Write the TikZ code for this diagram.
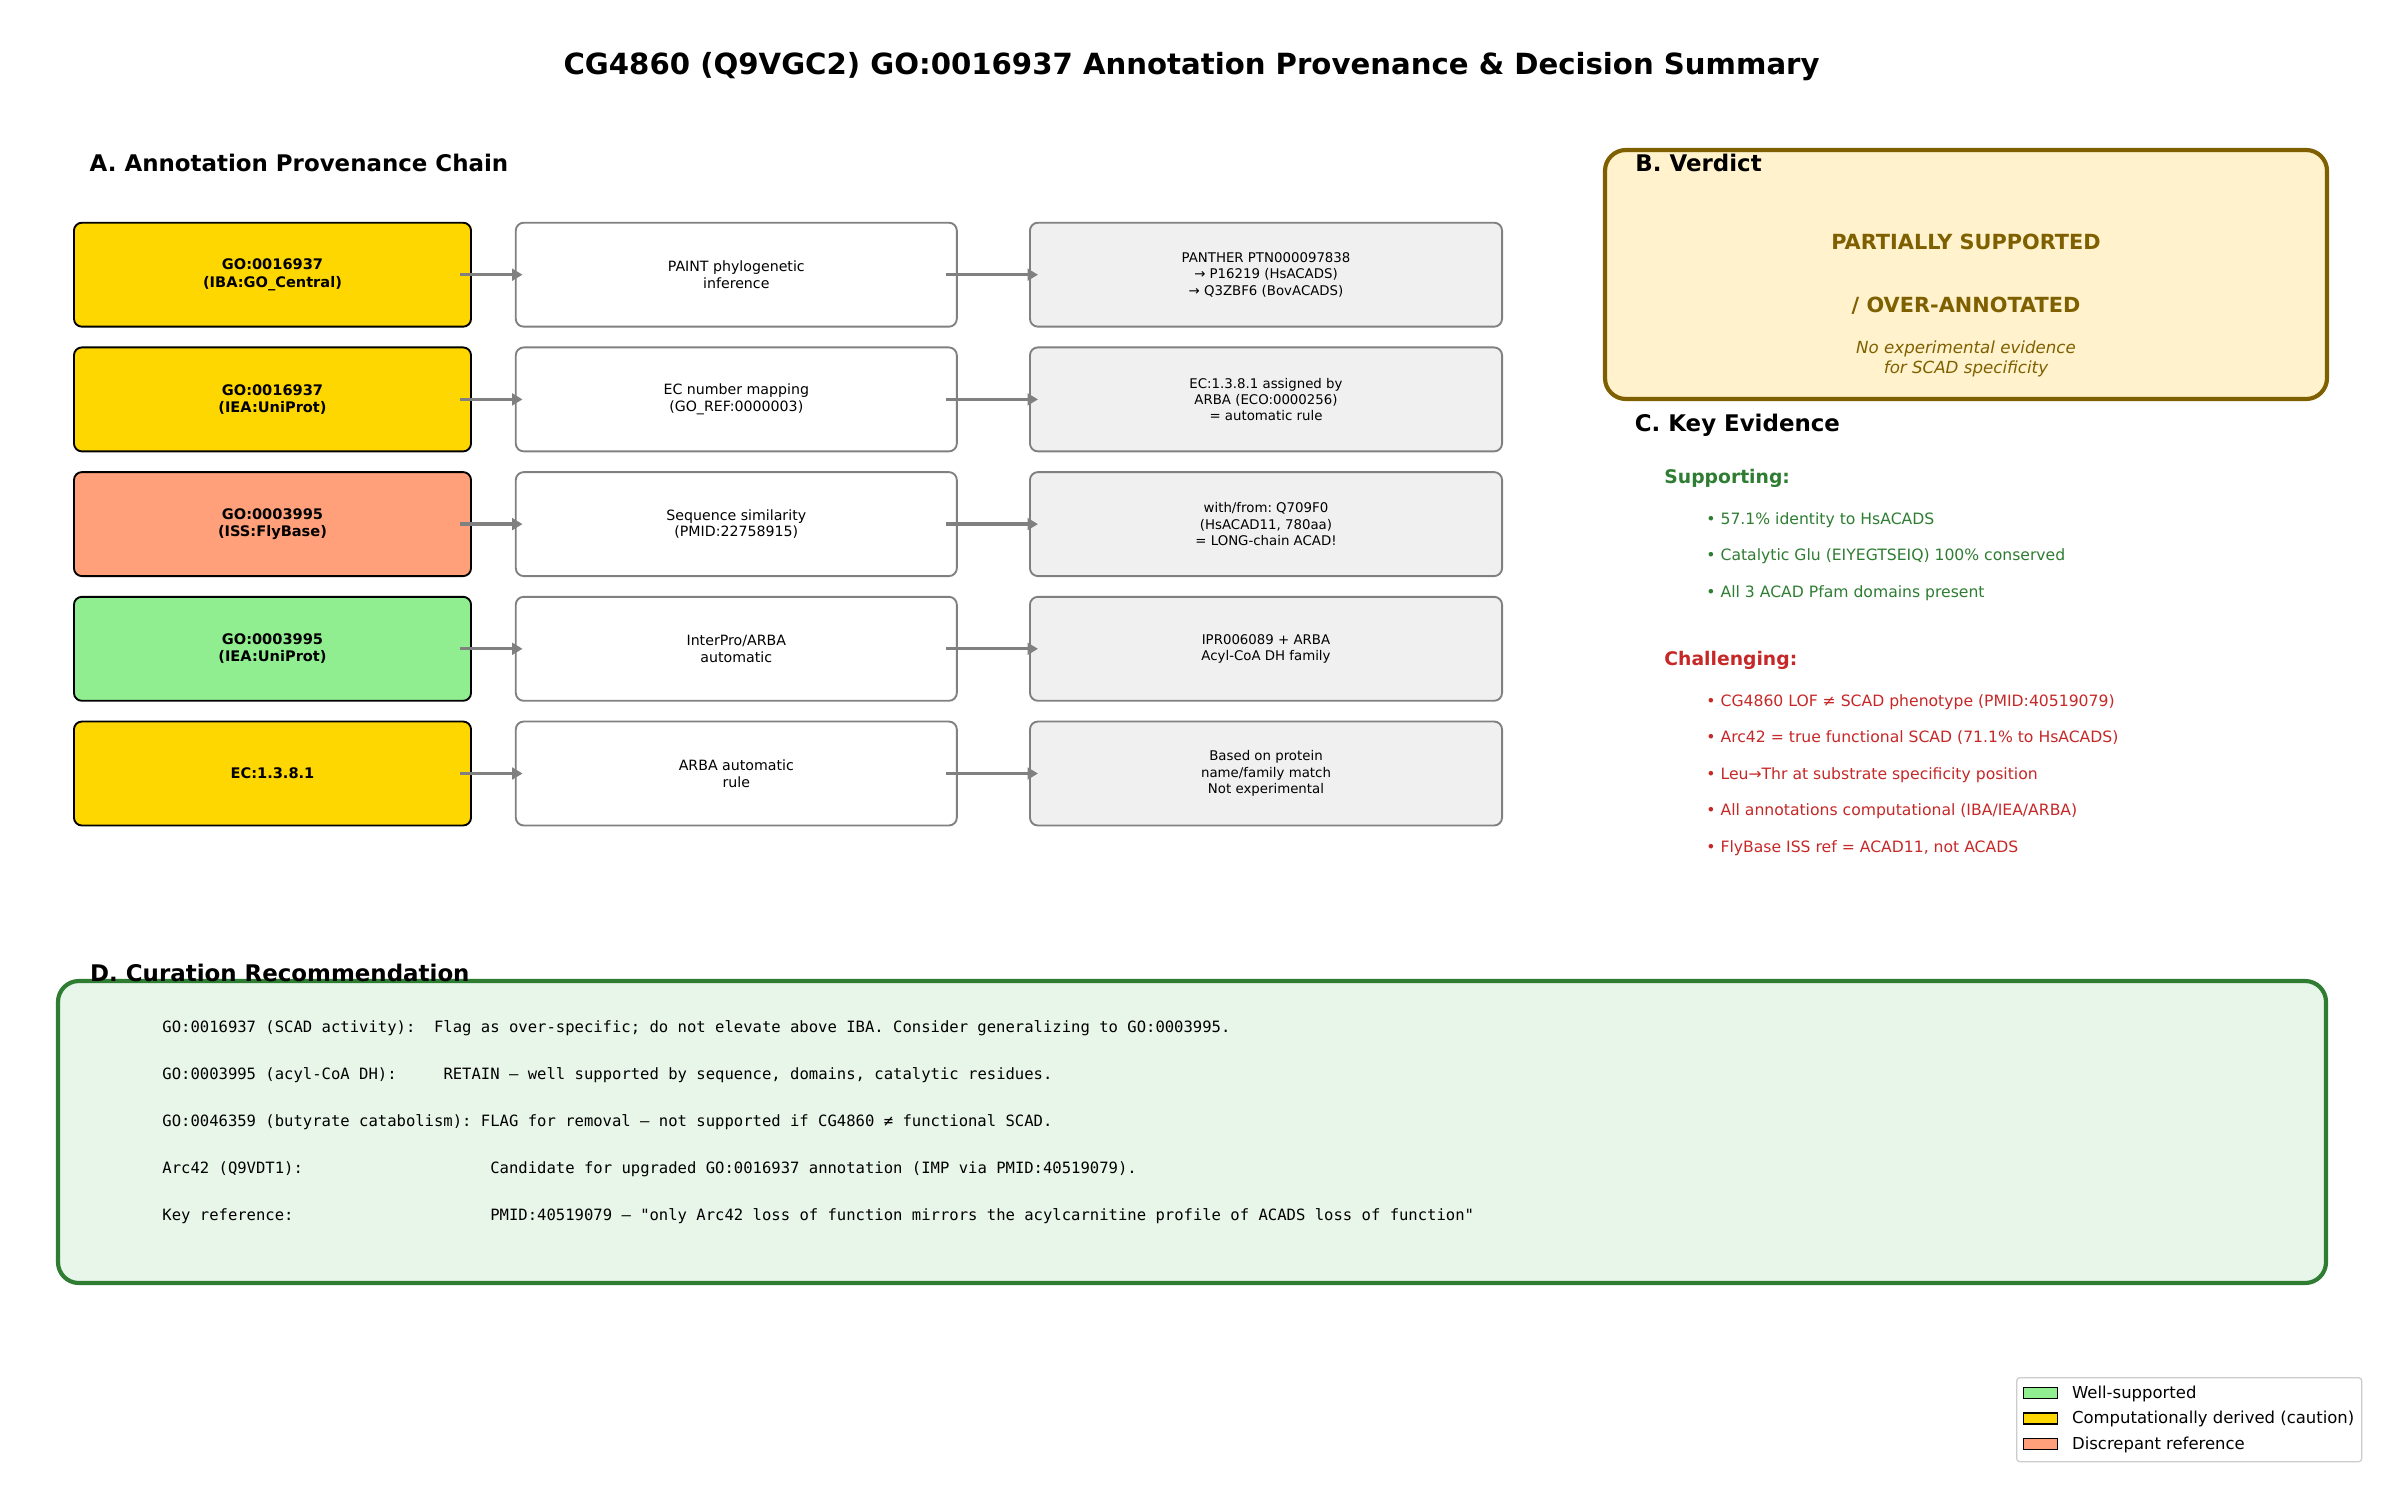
\documentclass[tikz,border=0pt]{standalone}
\usepackage{fontspec}
\setmainfont{DejaVu Sans}
\setmonofont{DejaVu Sans Mono}
\usetikzlibrary{arrows.meta}
\definecolor{gold}{HTML}{FFD700}
\definecolor{salmon}{HTML}{FFA07A}
\definecolor{lgreen}{HTML}{90EE90}
\definecolor{midgray}{HTML}{808080}
\definecolor{lightfill}{HTML}{F0F0F0}
\definecolor{verdfill}{HTML}{FFF2CC}
\definecolor{verdedge}{HTML}{7F6000}
\definecolor{evgreen}{HTML}{2E7D32}
\definecolor{evred}{HTML}{C62828}
\definecolor{recfill}{HTML}{E8F5E9}
\definecolor{legedge}{HTML}{CCCCCC}
\frenchspacing
\tikzset{
  lbox/.style={draw=black, line width=0.9pt, rounded corners=3.8pt, minimum width=190.6pt, minimum height=49.9pt, inner sep=0pt, align=center, font=\bfseries\fontsize{7}{8.3}\selectfont},
  mbox/.style={draw=midgray, line width=0.9pt, fill=white, rounded corners=3.8pt, minimum width=211.7pt, minimum height=49.9pt, inner sep=0pt, align=center, font=\fontsize{6.8}{8}\selectfont},
  rbox/.style={draw=midgray, line width=0.9pt, fill=lightfill, rounded corners=3.8pt, minimum width=226.6pt, minimum height=49.9pt, inner sep=0pt, align=center, font=\fontsize{6.4}{7.8}\selectfont},
  arr/.style={draw=midgray, line width=1.6pt, -{Triangle[length=5pt,width=5.6pt]}},
  head/.style={anchor=base west, inner sep=0pt, font=\bfseries\fontsize{11}{13}\selectfont},
  sub/.style={anchor=base west, inner sep=0pt, font=\bfseries\fontsize{9}{11}\selectfont},
  bul/.style={anchor=base west, inner sep=0pt, font=\fontsize{7.5}{9}\selectfont},
  mono/.style={anchor=base west, inner sep=0pt, font=\ttfamily\fontsize{7.47}{9}\selectfont},
  patch/.style={draw=black, line width=0.7pt, minimum width=16.3pt, minimum height=5.3pt, inner sep=0pt},
  legtext/.style={anchor=base west, inner sep=0pt, font=\fontsize{7.9}{9}\selectfont},
}
\begin{document}
\begin{tikzpicture}[x=0.48pt, y=-0.48pt]
\useasboundingbox[fill=white] (0,0) rectangle (2385,1485);

% title
\node[anchor=base, inner sep=0pt, font=\bfseries\fontsize{14}{16}\selectfont] (title) at (1191.5,75) {CG4860 (Q9VGC2) GO:0016937 Annotation Provenance \& Decision Summary};

% section A
\node[head] (hA) at (89.3,171.7) {A. Annotation Provenance Chain};

\node[lbox, fill=gold]   (L1) at (272.5,274.7) {GO:0016937\\(IBA:GO\_Central)};
\node[lbox, fill=gold]   (L2) at (272.5,399.4) {GO:0016937\\(IEA:UniProt)};
\node[lbox, fill=salmon] (L3) at (272.5,524.1) {GO:0003995\\(ISS:FlyBase)};
\node[lbox, fill=lgreen] (L4) at (272.5,648.8) {GO:0003995\\(IEA:UniProt)};
\node[lbox, fill=gold]   (L5) at (272.5,773.5) {EC:1.3.8.1};

\node[mbox] (M1) at (736.3,274.7) {PAINT phylogenetic\\inference};
\node[mbox] (M2) at (736.3,399.4) {EC number mapping\\(GO\_REF:0000003)};
\node[mbox] (M3) at (736.3,524.1) {Sequence similarity\\(PMID:22758915)};
\node[mbox] (M4) at (736.3,648.8) {InterPro/ARBA\\automatic};
\node[mbox] (M5) at (736.3,773.5) {ARBA automatic\\rule};

\node[rbox] (R1) at (1266,274.7) {PANTHER PTN000097838\\→ P16219 (HsACADS)\\→ Q3ZBF6 (BovACADS)};
\node[rbox] (R2) at (1266,399.4) {EC:1.3.8.1 assigned by\\ARBA (ECO:0000256)\\= automatic rule};
\node[rbox] (R3) at (1266,524.1) {with/from: Q709F0\\(HsACAD11, 780aa)\\= LONG-chain ACAD!};
\node[rbox] (R4) at (1266,648.8) {IPR006089 + ARBA\\Acyl-CoA DH family};
\node[rbox] (R5) at (1266,773.5) {Based on protein\\name/family match\\Not experimental};

\foreach \i in {1,...,5}{
  \draw[arr] ([xshift=-5.8pt]L\i.east) -- ([xshift=3.7pt]M\i.west);
  \draw[arr] ([xshift=-5.6pt]M\i.east) -- ([xshift=4.3pt]R\i.west);
}

% section B
\draw[draw=verdedge, fill=verdfill, line width=2pt, rounded corners=10pt] (1605,150) rectangle (2327,399);
\node[head] (hB) at (1635,171.5) {B. Verdict};
\node[anchor=base, inner sep=0pt, text=verdedge, font=\bfseries\fontsize{10}{12}\selectfont] (v1) at (1966,249) {PARTIALLY SUPPORTED};
\node[anchor=base, inner sep=0pt, text=verdedge, font=\bfseries\fontsize{10}{12}\selectfont] (v2) at (1966,312.7) {/ OVER-ANNOTATED};
\node[anchor=base, inner sep=0pt, text=verdedge, font=\itshape\fontsize{8}{9}\selectfont] (v3) at (1966,353) {No experimental evidence};
\node[anchor=base, inner sep=0pt, text=verdedge, font=\itshape\fontsize{8}{9}\selectfont] (v4) at (1966,373) {for SCAD specificity};

% section C
\node[head] (hC) at (1634.4,431.7) {C. Key Evidence};
\node[sub, text=evgreen] (sup) at (1664,483) {Supporting:};
\node[bul, text=evgreen] (s1) at (1706,524) {• 57.1\% identity to HsACADS};
\node[bul, text=evgreen] (s2) at (1706,560.7) {• Catalytic Glu (EIYEGTSEIQ) 100\% conserved};
\node[bul, text=evgreen] (s3) at (1706,597.3) {• All 3 ACAD Pfam domains present};
\node[sub, text=evred] (cha) at (1664,665.7) {Challenging:};
\node[bul, text=evred] (c1) at (1706,706) {• CG4860 LOF ≠ SCAD phenotype (PMID:40519079)};
\node[bul, text=evred] (c2) at (1706,742.5) {• Arc42 = true functional SCAD (71.1\% to HsACADS)};
\node[bul, text=evred] (c3) at (1706,779) {• Leu→Thr at substrate specificity position};
\node[bul, text=evred] (c4) at (1706,815.5) {• All annotations computational (IBA/IEA/ARBA)};
\node[bul, text=evred] (c5) at (1706,852) {• FlyBase ISS ref = ACAD11, not ACADS};

% section D
\draw[draw=evgreen, fill=recfill, line width=2pt, rounded corners=10pt] (58,981) rectangle (2326,1283);
\node[head] (hD) at (89.8,981.7) {D. Curation Recommendation};
\node[mono] (d1) at (162,1032.7) {GO:0016937 (SCAD activity):~~Flag as over-specific; do not elevate above IBA. Consider generalizing to GO:0003995.};
\node[mono] (d2) at (162,1079.7) {GO:0003995 (acyl-CoA DH):~~~~~RETAIN — well supported by sequence, domains, catalytic residues.};
\node[mono] (d3) at (162,1126.7) {GO:0046359 (butyrate catabolism): FLAG for removal — not supported if CG4860 ≠ functional SCAD.};
\node[mono] (d4) at (162,1173.7) {Arc42 (Q9VDT1):~~~~~~~~~~~~~~~~~~~~Candidate for upgraded GO:0016937 annotation (IMP via PMID:40519079).};
\node[mono] (d5) at (162,1220.7) {Key reference:~~~~~~~~~~~~~~~~~~~~~PMID:40519079 — "only Arc42 loss of function mirrors the acylcarnitine profile of ACADS loss of function"};

% legend
\draw[draw=legedge, fill=white, line width=0.6pt, rounded corners=1.5pt] (2016.7,1377.7) rectangle (2361.7,1461.7);
\node[patch, fill=lgreen] (p1) at (2040.3,1392.8) {};
\node[patch, fill=gold]   (p2) at (2040.3,1418.3) {};
\node[patch, fill=salmon] (p3) at (2040.3,1444.2) {};
\node[legtext] (t1) at (2071.7,1398.3) {Well-supported};
\node[legtext] (t2) at (2071.7,1423.8) {Computationally derived (caution)};
\node[legtext] (t3) at (2071.7,1449.3) {Discrepant reference};
\end{tikzpicture}
\end{document}
